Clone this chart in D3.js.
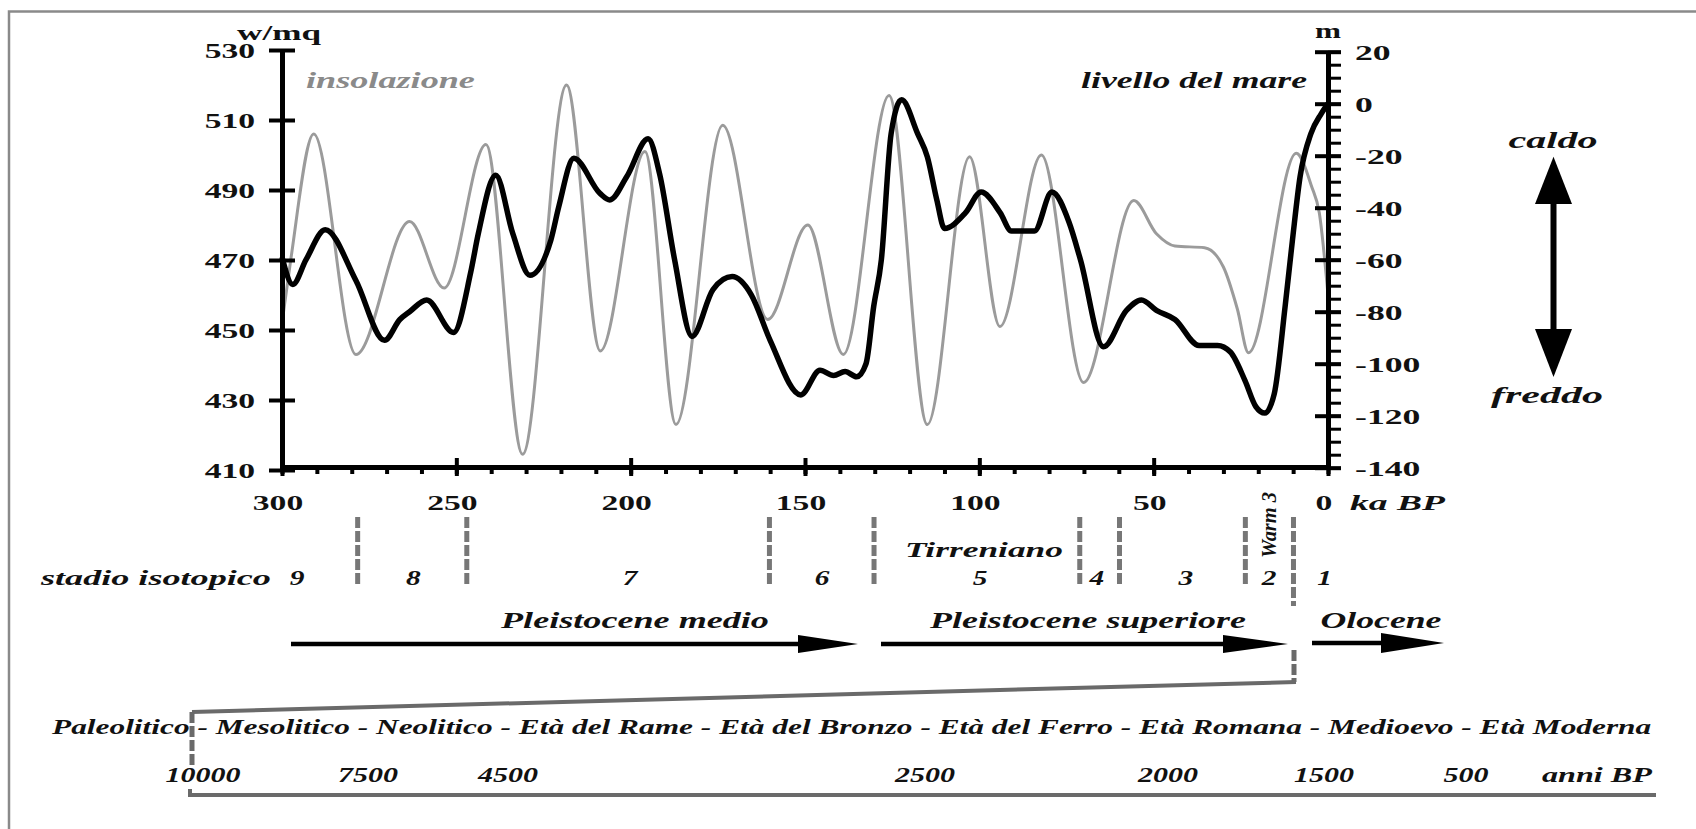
<!DOCTYPE html>
<html>
<head>
<meta charset="utf-8">
<script src="https://cdn.jsdelivr.net/npm/d3@7"></script>
<style>
  html, body { margin: 0; padding: 0; background: #fff; }
  svg { display: block; }
</style>
</head>
<body>
<div id="chart"></div>
<script>

// insolazione (w/mq), ka BP
var insolKa = [300, 297.5, 290.9, 278.8, 263.4, 253.5, 241.5, 231, 218.4, 208.7, 195.9, 187, 173.6, 160.7, 149.2, 139, 125.9, 114.9, 102.8, 94.1, 82.2, 70.1, 55.7, 49.2, 43.9, 35.4, 30, 26, 22.8, 9.1, 4.7, 2.5, 0]
var insolWm = [452, 470, 506, 443, 481, 462, 503, 414.5, 520, 444, 501, 423, 508.5, 453, 480, 443, 517, 423, 499.5, 451, 500, 435, 487, 477.5, 474, 473.5, 468, 456, 443.5, 500.5, 491, 483.5, 460]

// livello del mare (m)
var seaKa = [300, 296.9, 293.1, 287.6, 278.8, 270.6, 266.2, 263.4, 258.5, 250.8, 245.9, 243.7, 238.7, 233.8, 228.9, 222.9, 220.6, 216.3, 208.8, 206, 201.1, 195, 191.7, 187.4, 182.4, 176.4, 170.9, 165.4, 160, 151.2, 145.7, 141.8, 138.5, 135.2, 132.5, 130.3, 128.1, 125.3, 122.3, 117.7, 114.9, 112.2, 110, 104, 99.5, 94, 90.8, 84.2, 79.2, 74.3, 71, 64.4, 57.8, 53.5, 49.2, 43.9, 37, 31.7, 28, 23.8, 20.7, 18.1, 15.4, 12.3, 10.2, 8, 4.9, 2, 0]
var seaLevel = [-59, -69.5, -60, -48.5, -68, -91, -83, -80, -75.5, -88, -65, -50, -27.5, -50, -66, -52.5, -39.5, -21, -34.5, -37, -28, -13.5, -27, -60, -89.5, -71.5, -66.5, -73.5, -91, -112, -102.5, -104.5, -103, -105, -100, -78, -60, -11.5, 1.5, -11.5, -20.5, -37, -48, -42, -34, -42, -49, -49, -34, -45.5, -60, -93.5, -79.5, -75.5, -79.5, -83, -93, -93, -95.5, -106.5, -116.5, -119, -111.5, -78, -52.5, -28, -11.5, -4, 0]

var kaTicks = [300, 250, 200, 150, 100, 50, 0]
var wTicks = [410, 430, 450, 470, 490, 510, 530]
var mTicks = [-140, -120, -100, -80, -60, -40, -20, 0, 20]

// stadi isotopici
var stageNames = ["9", "8", "7", "6", "5", "4", "3", "2", "1"]
var stageAt = [295.7, 262.3, 200.2, 145.1, 99.8, 66.3, 40.8, 16.9, 1]
var stageBounds = [278.3, 247, 160.2, 130.2, 71.2, 59.8, 23.7, 9.9]

var eras = ["Paleolitico", "Mesolitico", "Neolitico", "Età del Rame", "Età del Bronzo", "Età del Ferro", "Età Romana", "Medioevo", "Età Moderna"]
var eraYears = ["10000", "7500", "4500", "2500", "2000", "1500", "500"]

var W = 1696, H = 829
var SX = 1.6
var FONT = "'Liberation Serif', 'Times New Roman', serif"
var INK = "#111"

var svg = d3.select("#chart").append("svg")
	.attr("width", W)
	.attr("height", H)

var x = d3.scaleLinear().domain([300, 0]).range([282, 1328])
var yW = d3.scaleLinear().domain([410, 530]).range([470, 50])
var yM = d3.scaleLinear().domain([-140, 20]).range([467.7, 51.7])

// stretched bold serif text, like the scanned original
function addText(g, str, px, py, o) {
	o = o || {}
	var t = g.append("text")
		.attr("font-family", FONT)
		.attr("font-size", o.size || 21)
		.attr("font-weight", "bold")
		.attr("font-style", o.italic ? "italic" : "normal")
		.attr("fill", o.fill || INK)
		.attr("text-anchor", o.anchor || "middle")
		.attr("dominant-baseline", "central")
		.text(str)
	var natural = t.node().getComputedTextLength()
	var sx = o.w ? o.w / natural : (o.sx || SX)
	var rot = o.rotate ? " rotate(" + o.rotate + ")" : ""
	t.attr("transform", "translate(" + px + "," + py + ")" + rot + " scale(" + sx + "," + (o.sy || 1) + ")")
	return t
}

// frame
svg.append("path")
	.attr("d", "M9," + H + "V11.5H" + W)
	.attr("fill", "none")
	.attr("stroke", "#8a8a8a")
	.attr("stroke-width", 2.5)

// curves
var insol = insolKa.map(function(k, i) { return [k, insolWm[i]] })
var sea = seaKa.map(function(k, i) { return [k, seaLevel[i]] })

svg.append("path")
	.datum(insol)
	.attr("fill", "none")
	.attr("stroke", "#9b9b9b")
	.attr("stroke-width", 3)
	.attr("d", d3.line()
		.x(function(d) { return x(d[0]) })
		.y(function(d) { return yW(d[1]) })
		.curve(d3.curveMonotoneX))

svg.append("path")
	.datum(sea)
	.attr("fill", "none")
	.attr("stroke", "#000")
	.attr("stroke-width", 5.5)
	.attr("stroke-linejoin", "round")
	.attr("d", d3.line()
		.x(function(d) { return x(d[0]) })
		.y(function(d) { return yM(d[1]) })
		.curve(d3.curveMonotoneX))

// axes
function styleAxis(g, w) {
	g.select(".domain").attr("stroke", "#000").attr("stroke-width", 5)
	g.selectAll(".tick line").attr("stroke", "#000").attr("stroke-width", w)
}

var left = svg.append("g").attr("transform", "translate(282,0)")
	.call(d3.axisLeft(yW).tickValues(wTicks).tickSizeOuter(0).tickFormat(""))
left.selectAll(".tick line").attr("x1", -13).attr("x2", 13)
styleAxis(left, 4)

var rightMinor = svg.append("g").attr("transform", "translate(1328,0)")
	.call(d3.axisRight(yM).ticks(32).tickSize(13).tickSizeOuter(0).tickFormat(""))
styleAxis(rightMinor, 3)
var right = svg.append("g").attr("transform", "translate(1328,0)")
	.call(d3.axisRight(yM).tickValues(mTicks).tickSizeOuter(0).tickFormat(""))
right.selectAll(".tick line").attr("x1", -13).attr("x2", 13)
styleAxis(right, 4)

var bottomMinor = svg.append("g").attr("transform", "translate(0,467)")
	.call(d3.axisBottom(x).ticks(30).tickSize(7).tickSizeOuter(0).tickFormat(""))
styleAxis(bottomMinor, 4)
var bottom = svg.append("g").attr("transform", "translate(0,467)")
	.call(d3.axisBottom(x).tickValues(kaTicks).tickSizeOuter(0).tickFormat(""))
bottom.selectAll(".tick line").attr("y1", -9).attr("y2", 9)
styleAxis(bottom, 4)

// axis labels
var labels = svg.append("g")
wTicks.forEach(function(v) { addText(labels, String(v), 255, yW(v) + 1, {anchor: "end"}) })
mTicks.forEach(function(v) { addText(labels, String(v), 1355, yM(v) + 1, {anchor: "start", sx: 1.7}) })
kaTicks.forEach(function(v) { addText(labels, String(v), x(v) - 4, 503) })

addText(labels, "w/mq", 279, 33, {w: 84})
addText(labels, "m", 1328, 31, {w: 26})
addText(labels, "ka BP", 1350, 503, {anchor: "start", italic: true, w: 95})
addText(labels, "insolazione", 306, 80, {anchor: "start", italic: true, size: 23, w: 169, fill: "#8a8a8a"})
addText(labels, "livello del mare", 1307, 80, {anchor: "end", italic: true, size: 23, w: 226})

// caldo / freddo
var ax = 1553.5
svg.append("line").attr("x1", ax).attr("x2", ax).attr("y1", 200).attr("y2", 333)
	.attr("stroke", "#000").attr("stroke-width", 6)
svg.append("path").attr("fill", "#000")
	.attr("d", "M" + ax + ",156.7L" + (ax - 18.5) + ",204L" + (ax + 18.5) + ",204Z")
svg.append("path").attr("fill", "#000")
	.attr("d", "M" + ax + ",377L" + (ax - 18.5) + ",329L" + (ax + 18.5) + ",329Z")
addText(labels, "caldo", 1553, 140, {italic: true, size: 23, w: 89})
addText(labels, "freddo", 1547, 395, {italic: true, size: 23, w: 112})

// stadi isotopici
var dashed = svg.append("g")
	.attr("stroke", "#777")
	.attr("stroke-width", 5)
	.attr("stroke-dasharray", "11,3")
stageBounds.forEach(function(k, i) {
	dashed.append("line")
		.attr("x1", x(k)).attr("x2", x(k))
		.attr("y1", 517).attr("y2", i === stageBounds.length - 1 ? 606 : 587)
})
stageNames.forEach(function(s, i) {
	addText(labels, s, x(stageAt[i]), 578, {italic: true, sx: 1.4})
})
addText(labels, "stadio isotopico", 41, 578, {anchor: "start", italic: true, w: 230})
addText(labels, "Tirreniano", 984, 550, {italic: true, w: 158})
addText(labels, "Warm 3", 1269, 525, {italic: true, size: 15, rotate: -90, w: 66, sy: 1.4})

// periodi
function arrow(x0, x1, tip, y, half) {
	svg.append("line").attr("x1", x0).attr("x2", x1).attr("y1", y).attr("y2", y)
		.attr("stroke", "#000").attr("stroke-width", 4.5)
	svg.append("path").attr("fill", "#000")
		.attr("d", "M" + tip + "," + y + "L" + (x1 - 2) + "," + (y - half) + "L" + (x1 - 2) + "," + (y + half) + "Z")
}
arrow(291, 800, 858, 644, 9)
arrow(881, 1225, 1288, 644, 9)
arrow(1312, 1383, 1444, 643, 10)
addText(labels, "Pleistocene medio", 635, 620, {italic: true, size: 23, w: 268})
addText(labels, "Pleistocene superiore", 1088, 620, {italic: true, size: 23, w: 316})
addText(labels, "Olocene", 1381, 620, {italic: true, size: 23, w: 121})

// zoom sull'Olocene
var br = svg.append("g").attr("fill", "none").attr("stroke", "#6a6a6a").attr("stroke-width", 4)
br.append("line").attr("x1", 1294).attr("x2", 1294).attr("y1", 650).attr("y2", 682)
	.attr("stroke-dasharray", "11,3").attr("stroke-width", 5)
br.append("path").attr("d", "M1296,682L192,712")
br.append("line").attr("x1", 192).attr("x2", 192).attr("y1", 712).attr("y2", 765)
	.attr("stroke-dasharray", "11,3").attr("stroke-width", 5)
br.append("path").attr("d", "M190,789V795H1656")

addText(labels, eras.join(" - "), 52, 728, {anchor: "start", italic: true, size: 20, w: 1600})
var yearX = [203, 368, 508, 925, 1168, 1324, 1466]
eraYears.forEach(function(s, i) {
	addText(labels, s, yearX[i], 775, {italic: true, size: 20, sx: 1.5})
})
addText(labels, "anni BP", 1542, 775, {anchor: "start", italic: true, size: 20, w: 110})

</script>
</body>
</html>
